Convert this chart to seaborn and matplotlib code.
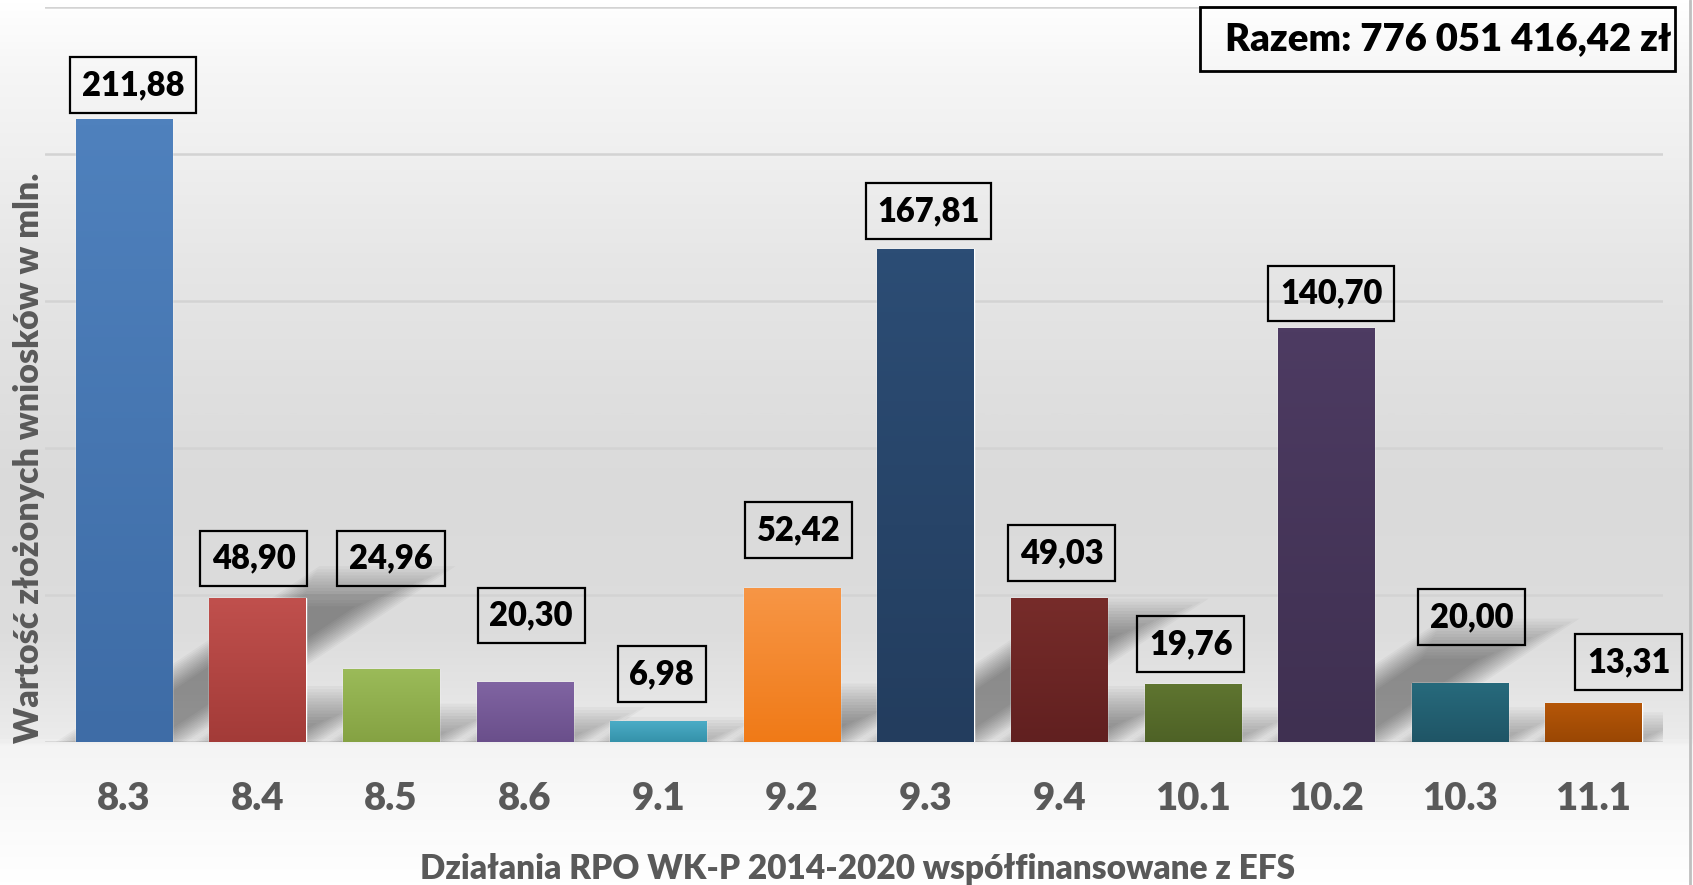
import numpy as np
import pandas as pd
import matplotlib.pyplot as plt
import matplotlib.colors as mcolors
from matplotlib.patches import Polygon, Rectangle
from matplotlib.lines import Line2D
import seaborn as sns

# Data ------------------------------------------------------------------------
actions = ['8.3', '8.4', '8.5', '8.6', '9.1', '9.2', '9.3', '9.4',
           '10.1', '10.2', '10.3', '11.1']
values = [211.88, 48.90, 24.96, 20.30, 6.98, 52.42, 167.81, 49.03,
          19.76, 140.70, 20.00, 13.31]
total_text = 'Razem: 776 051 416,42 zł'
y_title = 'Wartość złożonych wniosków w mln.'
x_title = 'Działania RPO WK-P 2014-2020 współfinansowane z EFS'

# bar gradient colours (top -> bottom)
top_colors = ['#4F81BD', '#C0504D', '#9BBB59', '#8064A2', '#4BACC6', '#F79646',
              '#2C4D75', '#772C2A', '#5F7530', '#4D3B62', '#276A7C', '#B65708']
bottom_colors = ['#3E6CA6', '#A33B38', '#85A243', '#6A4F8B', '#3592AA', '#F07A17',
                 '#233D5E', '#612020', '#4E6226', '#3F3051', '#1F5566', '#9A4704']

# manual label placement in pixels (labels were dragged around in Excel)
label_dx = [9.5, -4, 0, 6.5, 3.5, 6.5, 3, 2.5, -2, 5, 12, 35]
label_dy = [34, 39.5, 110, 67, 47.5, 58, 37.5, 45, 40, 35, 66, 41]

sns.set_theme(style="white")
plt.rcParams['font.family'] = ['Lato', 'DejaVu Sans']

W, H = 1693, 885
fig = plt.figure(figsize=(W / 100, H / 100), dpi=100)
fig.patch.set_facecolor('white')

# background gradient over the whole chart
bg = fig.add_axes([0, 0, 1, 1], zorder=-5)
stops = [(0.0, '#FFFFFF'), (0.08, '#F6F6F6'), (0.30, '#E6E6E6'), (0.55, '#DADADA'),
         (0.72, '#DDDDDD'), (0.835, '#EBEBEB'), (0.845, '#F4F4F4'), (1.0, '#FFFFFF')]
bg_cmap = mcolors.LinearSegmentedColormap.from_list('bg', stops)
bg.imshow(np.linspace(0, 1, 400).reshape(-1, 1), cmap=bg_cmap, aspect='auto',
          extent=(0, 1, 0, 1), origin='upper')
bg.axis('off')

ax = fig.add_axes([45 / W, 1 - 742 / H, (1663 - 45) / W, (742 - 7) / H])
ax.set_facecolor('none')

df = pd.DataFrame({'action': actions, 'value': values})
sns.barplot(data=df, x='action', y='value', hue='action', palette=top_colors,
            legend=False, width=0.72, saturation=1, ax=ax, zorder=3)

XLIM, YLIM = (-0.59, 11.52), (0, 250)
ax.set_xlim(XLIM)
ax.set_ylim(YLIM)
bb = ax.get_window_extent()
ux = bb.width / (XLIM[1] - XLIM[0])   # pixels per category
uy = bb.height / (YLIM[1] - YLIM[0])  # pixels per million

# perspective shadows (soft, skewed to the upper right) + gradient fill
for patch, c_top, c_bot in zip(ax.patches, top_colors, bottom_colors):
    x0, h = patch.get_x(), patch.get_height()
    x1 = x0 + patch.get_width()
    hs = 0.25 * h
    for e in np.linspace(-20, 20, 14):
        ex, ey = e / ux, e / uy
        top = max(hs + ey, 0)
        shift = 1.5 * top * uy / ux
        poly = Polygon([(x0 - ex, 0), (x1 + ex, 0), (x1 + ex + shift, top), (x0 - ex + shift, top)],
                       closed=True, fc='black', ec='none', alpha=0.032, zorder=2)
        ax.add_patch(poly)
    grad = np.array([mcolors.to_rgb(c_top), mcolors.to_rgb(c_bot)])
    grad = np.linspace(grad[0], grad[1], 100).reshape(100, 1, 3)
    im = ax.imshow(grad, extent=(x0, x1, 0, h), aspect='auto', origin='upper', zorder=4)
    im.set_clip_path(patch)

for i, (v, dx, dy) in enumerate(zip(values, label_dx, label_dy)):
    ax.annotate(f'{v:.2f}'.replace('.', ','), xy=(i, v), xytext=(dx * 0.72, dy * 0.72),
                textcoords='offset points', ha='center', va='center',
                fontsize=23.5, fontweight='heavy', color='black', zorder=6,
                bbox=dict(boxstyle='square,pad=0.36', fc='none', ec='black', lw=1.6))

ax.set_xlim(XLIM)
ax.set_ylim(YLIM)
ax.set_yticks(range(0, 251, 50))
ax.set_yticklabels([])
ax.yaxis.grid(True, color='#D3D3D3', lw=1.8, zorder=0)
ax.set_axisbelow(True)
ax.tick_params(axis='both', length=0)
ax.tick_params(axis='x', pad=29, labelsize=27.5, labelcolor='#595959')
for lab in ax.get_xticklabels():
    lab.set_fontweight('heavy')
ax.set_xlabel('')
ax.set_ylabel('')
sns.despine(ax=ax, left=True, bottom=True)

fig.text(29 / W, 1 - 458 / H, y_title, rotation=90, ha='center', va='center',
         fontsize=24.5, fontweight='heavy', color='#595959')
fig.text(858 / W, 1 - 869 / H, x_title, ha='center', va='center',
         fontsize=24, fontweight='heavy', color='#595959')

fig.patches.append(Rectangle((1200 / W, 1 - 71 / H), 475 / W, 64 / H, transform=fig.transFigure,
                             fc='none', ec='black', lw=2, zorder=10))
fig.text(1448 / W, 1 - 39 / H, total_text, ha='center', va='center',
         fontsize=27.5, fontweight='heavy', color='black')
fig.add_artist(Line2D([1690 / W, 1690 / W], [0, 1], color='#BFBFBF', lw=2))

plt.savefig('out.png', dpi=100)
